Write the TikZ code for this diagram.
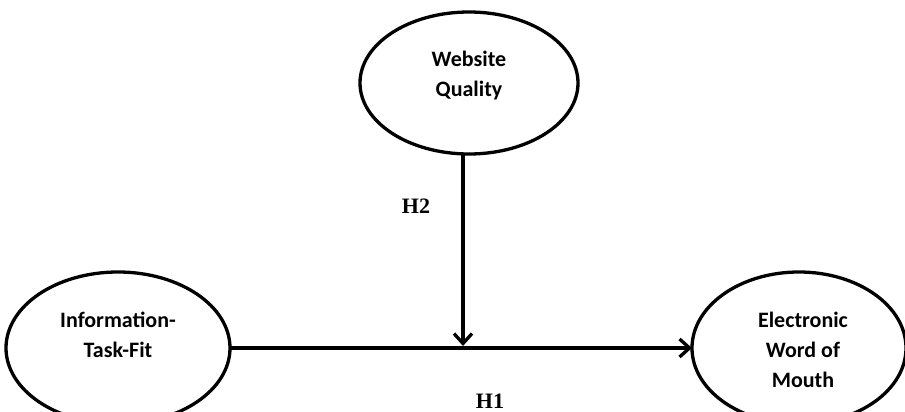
\documentclass[tikz,border=0pt]{standalone}
\usepackage{fontspec}
\setmainfont{Carlito}
\newfontfamily\hfont{Liberation Serif}
\usetikzlibrary{arrows.meta}
\begin{document}
\begin{tikzpicture}[x=1pt,y=-1pt,
  oval/.style={line width=3.3pt},
  label/.style={font=\fontsize{22}{30}\selectfont\bfseries,align=center},
  link/.style={line width=3.3pt,-{Straight Barb[length=10pt,width=18pt,line width=3.3pt]}},
  hyp/.style={font=\hfont\fontsize{22}{26}\selectfont\bfseries}]
\useasboundingbox (0,0) rectangle (905,412);
\draw[oval] (469,83) ellipse [x radius=109, y radius=71];
\node[label] (wq) at (469,76) {Website\\Quality};
\draw[oval] (118,348) ellipse [x radius=112, y radius=76];
\node[label] (itf) at (118,335) {Information-\\Task-Fit};
\draw[oval] (799,348) ellipse [x radius=107, y radius=76];
\node[label] (ewom) at (803,350) {Electronic\\Word of\\Mouth};
\coordinate (itfE) at (230,348);
\coordinate (ewomW) at (692,348);
\coordinate (wqS) at (463,154);
\coordinate (mid) at (463,346);
\draw[link] (itfE) -- (ewomW);
\draw[link] (wqS) -- (mid);
\node[hyp] (h2) at (416,206) {H2};
\node[hyp] (h1) at (490,401) {H1};
\end{tikzpicture}
\end{document}
